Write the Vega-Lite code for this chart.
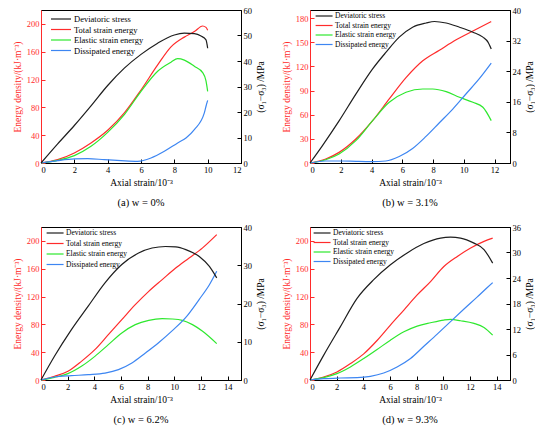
{
  "$schema": "https://vega.github.io/schema/vega-lite/v6.json",
  "padding": {"left": 11, "top": 5, "right": 0, "bottom": 0},
  "config": {
    "view": {"stroke": "#000000", "strokeWidth": 1},
    "font": "Liberation Serif",
    "axis": {
      "grid": false,
      "tickSize": -4,
      "labelPadding": 6,
      "labelFont": "Liberation Serif",
      "labelFontSize": 8.5,
      "titleFont": "Liberation Serif",
      "titleFontSize": 9.5,
      "titleFontWeight": "normal",
      "domainColor": "#000000",
      "tickColor": "#000000",
      "labelColor": "#000000",
      "titleColor": "#000000"
    },
    "legend": {
      "orient": "none",
      "legendX": 5,
      "legendY": 2,
      "padding": 0,
      "symbolType": "M-1,0H4",
      "symbolStrokeWidth": 1.6,
      "symbolSize": 46,
      "labelFont": "Liberation Serif",
      "labelFontSize": 7.5,
      "labelOffset": 12,
      "rowPadding": 1.5
    },
    "title": {"font": "Liberation Serif", "fontSize": 10.5, "fontWeight": "normal", "orient": "bottom", "offset": 11, "frame": "group"},
    "line": {"strokeWidth": 1.2, "interpolate": "monotone"}
  },
  "data": {
    "values": [
      {"panel": "a", "series": "Deviatoric stress", "strain": 0, "value": 0},
      {"panel": "a", "series": "Deviatoric stress", "strain": 1, "value": 7.5},
      {"panel": "a", "series": "Deviatoric stress", "strain": 2, "value": 14.7},
      {"panel": "a", "series": "Deviatoric stress", "strain": 3, "value": 22.4},
      {"panel": "a", "series": "Deviatoric stress", "strain": 4, "value": 30.4},
      {"panel": "a", "series": "Deviatoric stress", "strain": 5, "value": 37.2},
      {"panel": "a", "series": "Deviatoric stress", "strain": 6, "value": 42.6},
      {"panel": "a", "series": "Deviatoric stress", "strain": 7, "value": 47},
      {"panel": "a", "series": "Deviatoric stress", "strain": 8, "value": 50.2},
      {"panel": "a", "series": "Deviatoric stress", "strain": 8.6, "value": 50.9},
      {"panel": "a", "series": "Deviatoric stress", "strain": 9.2, "value": 50.7},
      {"panel": "a", "series": "Deviatoric stress", "strain": 9.6, "value": 49.8},
      {"panel": "a", "series": "Deviatoric stress", "strain": 9.9, "value": 48.3},
      {"panel": "a", "series": "Deviatoric stress", "strain": 10, "value": 45},
      {"panel": "a", "series": "Total strain energy", "strain": 0, "value": 0},
      {"panel": "a", "series": "Total strain energy", "strain": 1, "value": 4.8},
      {"panel": "a", "series": "Total strain energy", "strain": 2, "value": 14.4},
      {"panel": "a", "series": "Total strain energy", "strain": 3, "value": 28.8},
      {"panel": "a", "series": "Total strain energy", "strain": 4, "value": 47},
      {"panel": "a", "series": "Total strain energy", "strain": 5, "value": 72},
      {"panel": "a", "series": "Total strain energy", "strain": 6, "value": 105},
      {"panel": "a", "series": "Total strain energy", "strain": 7, "value": 141},
      {"panel": "a", "series": "Total strain energy", "strain": 7.8, "value": 167},
      {"panel": "a", "series": "Total strain energy", "strain": 8.6, "value": 181},
      {"panel": "a", "series": "Total strain energy", "strain": 9.2, "value": 189},
      {"panel": "a", "series": "Total strain energy", "strain": 9.7, "value": 197},
      {"panel": "a", "series": "Total strain energy", "strain": 9.9, "value": 195},
      {"panel": "a", "series": "Total strain energy", "strain": 10, "value": 191},
      {"panel": "a", "series": "Elastic strain energy", "strain": 0, "value": 0},
      {"panel": "a", "series": "Elastic strain energy", "strain": 1, "value": 3.8},
      {"panel": "a", "series": "Elastic strain energy", "strain": 2, "value": 10.6},
      {"panel": "a", "series": "Elastic strain energy", "strain": 3, "value": 24},
      {"panel": "a", "series": "Elastic strain energy", "strain": 4, "value": 44},
      {"panel": "a", "series": "Elastic strain energy", "strain": 5, "value": 69.6},
      {"panel": "a", "series": "Elastic strain energy", "strain": 6, "value": 103},
      {"panel": "a", "series": "Elastic strain energy", "strain": 7, "value": 132},
      {"panel": "a", "series": "Elastic strain energy", "strain": 7.8, "value": 145},
      {"panel": "a", "series": "Elastic strain energy", "strain": 8.2, "value": 150},
      {"panel": "a", "series": "Elastic strain energy", "strain": 8.6, "value": 148},
      {"panel": "a", "series": "Elastic strain energy", "strain": 9.2, "value": 139},
      {"panel": "a", "series": "Elastic strain energy", "strain": 9.7, "value": 130},
      {"panel": "a", "series": "Elastic strain energy", "strain": 9.9, "value": 118},
      {"panel": "a", "series": "Elastic strain energy", "strain": 10, "value": 103},
      {"panel": "a", "series": "Dissipated energy", "strain": 0, "value": 0},
      {"panel": "a", "series": "Dissipated energy", "strain": 1, "value": 3.4},
      {"panel": "a", "series": "Dissipated energy", "strain": 2, "value": 5.8},
      {"panel": "a", "series": "Dissipated energy", "strain": 2.8, "value": 6.2},
      {"panel": "a", "series": "Dissipated energy", "strain": 3.8, "value": 4.8},
      {"panel": "a", "series": "Dissipated energy", "strain": 4.8, "value": 3.4},
      {"panel": "a", "series": "Dissipated energy", "strain": 5.8, "value": 2.4},
      {"panel": "a", "series": "Dissipated energy", "strain": 6.6, "value": 7.2},
      {"panel": "a", "series": "Dissipated energy", "strain": 7.4, "value": 16.8},
      {"panel": "a", "series": "Dissipated energy", "strain": 8.2, "value": 28.8},
      {"panel": "a", "series": "Dissipated energy", "strain": 8.7, "value": 36},
      {"panel": "a", "series": "Dissipated energy", "strain": 9.2, "value": 48},
      {"panel": "a", "series": "Dissipated energy", "strain": 9.8, "value": 72},
      {"panel": "a", "series": "Dissipated energy", "strain": 9.9, "value": 81.6},
      {"panel": "a", "series": "Dissipated energy", "strain": 10, "value": 90},

      {"panel": "b", "series": "Deviatoric stress", "strain": 0, "value": 0},
      {"panel": "b", "series": "Deviatoric stress", "strain": 0.8, "value": 4.5},
      {"panel": "b", "series": "Deviatoric stress", "strain": 1.89, "value": 11},
      {"panel": "b", "series": "Deviatoric stress", "strain": 2.98, "value": 18},
      {"panel": "b", "series": "Deviatoric stress", "strain": 4.07, "value": 24.6},
      {"panel": "b", "series": "Deviatoric stress", "strain": 4.93, "value": 28.9},
      {"panel": "b", "series": "Deviatoric stress", "strain": 5.8, "value": 32.9},
      {"panel": "b", "series": "Deviatoric stress", "strain": 6.67, "value": 35.5},
      {"panel": "b", "series": "Deviatoric stress", "strain": 7.54, "value": 36.6},
      {"panel": "b", "series": "Deviatoric stress", "strain": 8.09, "value": 37},
      {"panel": "b", "series": "Deviatoric stress", "strain": 8.85, "value": 36.6},
      {"panel": "b", "series": "Deviatoric stress", "strain": 9.72, "value": 35.5},
      {"panel": "b", "series": "Deviatoric stress", "strain": 10.59, "value": 34.2},
      {"panel": "b", "series": "Deviatoric stress", "strain": 11.24, "value": 32.9},
      {"panel": "b", "series": "Deviatoric stress", "strain": 11.57, "value": 31.6},
      {"panel": "b", "series": "Deviatoric stress", "strain": 11.78, "value": 29.8},
      {"panel": "b", "series": "Total strain energy", "strain": 0, "value": 0},
      {"panel": "b", "series": "Total strain energy", "strain": 1.02, "value": 5},
      {"panel": "b", "series": "Total strain energy", "strain": 1.89, "value": 13.2},
      {"panel": "b", "series": "Total strain energy", "strain": 2.98, "value": 29.8},
      {"panel": "b", "series": "Total strain energy", "strain": 4.07, "value": 52.6},
      {"panel": "b", "series": "Total strain energy", "strain": 5.15, "value": 79.5},
      {"panel": "b", "series": "Total strain energy", "strain": 6.24, "value": 106},
      {"panel": "b", "series": "Total strain energy", "strain": 7.33, "value": 127},
      {"panel": "b", "series": "Total strain energy", "strain": 8.41, "value": 140},
      {"panel": "b", "series": "Total strain energy", "strain": 9.5, "value": 153},
      {"panel": "b", "series": "Total strain energy", "strain": 10.59, "value": 164},
      {"panel": "b", "series": "Total strain energy", "strain": 11.78, "value": 175.6},
      {"panel": "b", "series": "Elastic strain energy", "strain": 0, "value": 0},
      {"panel": "b", "series": "Elastic strain energy", "strain": 1.02, "value": 4.1},
      {"panel": "b", "series": "Elastic strain energy", "strain": 1.89, "value": 11.2},
      {"panel": "b", "series": "Elastic strain energy", "strain": 2.98, "value": 27.7},
      {"panel": "b", "series": "Elastic strain energy", "strain": 4.07, "value": 52.6},
      {"panel": "b", "series": "Elastic strain energy", "strain": 5.15, "value": 75.4},
      {"panel": "b", "series": "Elastic strain energy", "strain": 6.24, "value": 87.8},
      {"panel": "b", "series": "Elastic strain energy", "strain": 7.33, "value": 91.9},
      {"panel": "b", "series": "Elastic strain energy", "strain": 7.98, "value": 91.9},
      {"panel": "b", "series": "Elastic strain energy", "strain": 8.85, "value": 88.6},
      {"panel": "b", "series": "Elastic strain energy", "strain": 9.72, "value": 81.6},
      {"panel": "b", "series": "Elastic strain energy", "strain": 10.59, "value": 75.4},
      {"panel": "b", "series": "Elastic strain energy", "strain": 11.24, "value": 69.2},
      {"panel": "b", "series": "Elastic strain energy", "strain": 11.78, "value": 52.6},
      {"panel": "b", "series": "Dissipated energy", "strain": 0, "value": 0},
      {"panel": "b", "series": "Dissipated energy", "strain": 1, "value": 2.5},
      {"panel": "b", "series": "Dissipated energy", "strain": 2, "value": 2.5},
      {"panel": "b", "series": "Dissipated energy", "strain": 3, "value": 2},
      {"panel": "b", "series": "Dissipated energy", "strain": 4, "value": 1.7},
      {"panel": "b", "series": "Dissipated energy", "strain": 4.93, "value": 2.5},
      {"panel": "b", "series": "Dissipated energy", "strain": 5.8, "value": 8},
      {"panel": "b", "series": "Dissipated energy", "strain": 6.67, "value": 18},
      {"panel": "b", "series": "Dissipated energy", "strain": 7.54, "value": 33},
      {"panel": "b", "series": "Dissipated energy", "strain": 8.41, "value": 50},
      {"panel": "b", "series": "Dissipated energy", "strain": 9.28, "value": 67},
      {"panel": "b", "series": "Dissipated energy", "strain": 10.15, "value": 86},
      {"panel": "b", "series": "Dissipated energy", "strain": 11.02, "value": 105},
      {"panel": "b", "series": "Dissipated energy", "strain": 11.78, "value": 124},

      {"panel": "c", "series": "Deviatoric stress", "strain": 0, "value": 0},
      {"panel": "c", "series": "Deviatoric stress", "strain": 1.01, "value": 6.2},
      {"panel": "c", "series": "Deviatoric stress", "strain": 2.27, "value": 13.1},
      {"panel": "c", "series": "Deviatoric stress", "strain": 3.54, "value": 19.3},
      {"panel": "c", "series": "Deviatoric stress", "strain": 4.8, "value": 25.4},
      {"panel": "c", "series": "Deviatoric stress", "strain": 6.06, "value": 30.2},
      {"panel": "c", "series": "Deviatoric stress", "strain": 7.32, "value": 33.2},
      {"panel": "c", "series": "Deviatoric stress", "strain": 8.33, "value": 34.5},
      {"panel": "c", "series": "Deviatoric stress", "strain": 9.34, "value": 34.9},
      {"panel": "c", "series": "Deviatoric stress", "strain": 10.1, "value": 34.8},
      {"panel": "c", "series": "Deviatoric stress", "strain": 10.86, "value": 34.1},
      {"panel": "c", "series": "Deviatoric stress", "strain": 11.87, "value": 32.3},
      {"panel": "c", "series": "Deviatoric stress", "strain": 12.63, "value": 29.7},
      {"panel": "c", "series": "Deviatoric stress", "strain": 13.18, "value": 26.7},
      {"panel": "c", "series": "Total strain energy", "strain": 0, "value": 0},
      {"panel": "c", "series": "Total strain energy", "strain": 1.01, "value": 5.3},
      {"panel": "c", "series": "Total strain energy", "strain": 2.02, "value": 12.5},
      {"panel": "c", "series": "Total strain energy", "strain": 3.03, "value": 26.8},
      {"panel": "c", "series": "Total strain energy", "strain": 4.04, "value": 43.6},
      {"panel": "c", "series": "Total strain energy", "strain": 5.05, "value": 65.2},
      {"panel": "c", "series": "Total strain energy", "strain": 6.06, "value": 86.8},
      {"panel": "c", "series": "Total strain energy", "strain": 7.07, "value": 108.3},
      {"panel": "c", "series": "Total strain energy", "strain": 8.08, "value": 127.5},
      {"panel": "c", "series": "Total strain energy", "strain": 9.09, "value": 144.3},
      {"panel": "c", "series": "Total strain energy", "strain": 10.1, "value": 161},
      {"panel": "c", "series": "Total strain energy", "strain": 11.11, "value": 175.5},
      {"panel": "c", "series": "Total strain energy", "strain": 12.12, "value": 190},
      {"panel": "c", "series": "Total strain energy", "strain": 13.18, "value": 209},
      {"panel": "c", "series": "Elastic strain energy", "strain": 0, "value": 0},
      {"panel": "c", "series": "Elastic strain energy", "strain": 1.01, "value": 3.8},
      {"panel": "c", "series": "Elastic strain energy", "strain": 2.02, "value": 9.1},
      {"panel": "c", "series": "Elastic strain energy", "strain": 3.03, "value": 19.7},
      {"panel": "c", "series": "Elastic strain energy", "strain": 4.04, "value": 34},
      {"panel": "c", "series": "Elastic strain energy", "strain": 5.05, "value": 50.8},
      {"panel": "c", "series": "Elastic strain energy", "strain": 6.06, "value": 67.6},
      {"panel": "c", "series": "Elastic strain energy", "strain": 7.07, "value": 79.6},
      {"panel": "c", "series": "Elastic strain energy", "strain": 8.08, "value": 85.8},
      {"panel": "c", "series": "Elastic strain energy", "strain": 9.09, "value": 88.2},
      {"panel": "c", "series": "Elastic strain energy", "strain": 9.85, "value": 87.7},
      {"panel": "c", "series": "Elastic strain energy", "strain": 10.6, "value": 85.8},
      {"panel": "c", "series": "Elastic strain energy", "strain": 11.36, "value": 79.6},
      {"panel": "c", "series": "Elastic strain energy", "strain": 12.12, "value": 70},
      {"panel": "c", "series": "Elastic strain energy", "strain": 13.18, "value": 52.3},
      {"panel": "c", "series": "Dissipated energy", "strain": 0, "value": 0},
      {"panel": "c", "series": "Dissipated energy", "strain": 1.01, "value": 4.3},
      {"panel": "c", "series": "Dissipated energy", "strain": 2.27, "value": 6.2},
      {"panel": "c", "series": "Dissipated energy", "strain": 3.54, "value": 7.7},
      {"panel": "c", "series": "Dissipated energy", "strain": 4.8, "value": 10},
      {"panel": "c", "series": "Dissipated energy", "strain": 5.81, "value": 14.9},
      {"panel": "c", "series": "Dissipated energy", "strain": 6.82, "value": 24.4},
      {"panel": "c", "series": "Dissipated energy", "strain": 7.83, "value": 38.8},
      {"panel": "c", "series": "Dissipated energy", "strain": 8.84, "value": 54},
      {"panel": "c", "series": "Dissipated energy", "strain": 9.85, "value": 71},
      {"panel": "c", "series": "Dissipated energy", "strain": 10.86, "value": 90},
      {"panel": "c", "series": "Dissipated energy", "strain": 11.87, "value": 116},
      {"panel": "c", "series": "Dissipated energy", "strain": 12.63, "value": 137},
      {"panel": "c", "series": "Dissipated energy", "strain": 13.18, "value": 156.3},

      {"panel": "d", "series": "Deviatoric stress", "strain": 0, "value": 0},
      {"panel": "d", "series": "Deviatoric stress", "strain": 1.02, "value": 5.8},
      {"panel": "d", "series": "Deviatoric stress", "strain": 2.27, "value": 12.5},
      {"panel": "d", "series": "Deviatoric stress", "strain": 3.53, "value": 19.2},
      {"panel": "d", "series": "Deviatoric stress", "strain": 4.78, "value": 23.6},
      {"panel": "d", "series": "Deviatoric stress", "strain": 6.03, "value": 27.1},
      {"panel": "d", "series": "Deviatoric stress", "strain": 7.29, "value": 29.9},
      {"panel": "d", "series": "Deviatoric stress", "strain": 8.54, "value": 32.1},
      {"panel": "d", "series": "Deviatoric stress", "strain": 9.79, "value": 33.4},
      {"panel": "d", "series": "Deviatoric stress", "strain": 10.54, "value": 33.6},
      {"panel": "d", "series": "Deviatoric stress", "strain": 11.29, "value": 33.4},
      {"panel": "d", "series": "Deviatoric stress", "strain": 12.3, "value": 32.2},
      {"panel": "d", "series": "Deviatoric stress", "strain": 13.05, "value": 30.7},
      {"panel": "d", "series": "Deviatoric stress", "strain": 13.7, "value": 27.5},
      {"panel": "d", "series": "Total strain energy", "strain": 0, "value": 0},
      {"panel": "d", "series": "Total strain energy", "strain": 1.02, "value": 4.3},
      {"panel": "d", "series": "Total strain energy", "strain": 2.02, "value": 11.6},
      {"panel": "d", "series": "Total strain energy", "strain": 3.03, "value": 23.6},
      {"panel": "d", "series": "Total strain energy", "strain": 4.03, "value": 37.6},
      {"panel": "d", "series": "Total strain energy", "strain": 5.03, "value": 56.8},
      {"panel": "d", "series": "Total strain energy", "strain": 6.03, "value": 79},
      {"panel": "d", "series": "Total strain energy", "strain": 7.04, "value": 100.6},
      {"panel": "d", "series": "Total strain energy", "strain": 8.04, "value": 122.3},
      {"panel": "d", "series": "Total strain energy", "strain": 9.04, "value": 141.5},
      {"panel": "d", "series": "Total strain energy", "strain": 10.04, "value": 163.2},
      {"panel": "d", "series": "Total strain energy", "strain": 11.05, "value": 177.7},
      {"panel": "d", "series": "Total strain energy", "strain": 12.05, "value": 189.7},
      {"panel": "d", "series": "Total strain energy", "strain": 13.05, "value": 199.3},
      {"panel": "d", "series": "Total strain energy", "strain": 13.7, "value": 204},
      {"panel": "d", "series": "Elastic strain energy", "strain": 0, "value": 0},
      {"panel": "d", "series": "Elastic strain energy", "strain": 1.02, "value": 3.4},
      {"panel": "d", "series": "Elastic strain energy", "strain": 2.02, "value": 9.1},
      {"panel": "d", "series": "Elastic strain energy", "strain": 3.03, "value": 18.8},
      {"panel": "d", "series": "Elastic strain energy", "strain": 4.03, "value": 30.8},
      {"panel": "d", "series": "Elastic strain energy", "strain": 5.03, "value": 43.8},
      {"panel": "d", "series": "Elastic strain energy", "strain": 6.03, "value": 57.3},
      {"panel": "d", "series": "Elastic strain energy", "strain": 7.04, "value": 69.3},
      {"panel": "d", "series": "Elastic strain energy", "strain": 8.04, "value": 77.5},
      {"panel": "d", "series": "Elastic strain energy", "strain": 9.04, "value": 82.3},
      {"panel": "d", "series": "Elastic strain energy", "strain": 10.04, "value": 86.2},
      {"panel": "d", "series": "Elastic strain energy", "strain": 10.54, "value": 87.1},
      {"panel": "d", "series": "Elastic strain energy", "strain": 11.29, "value": 85.2},
      {"panel": "d", "series": "Elastic strain energy", "strain": 12.3, "value": 81.4},
      {"panel": "d", "series": "Elastic strain energy", "strain": 13.05, "value": 75.6},
      {"panel": "d", "series": "Elastic strain energy", "strain": 13.7, "value": 64.5},
      {"panel": "d", "series": "Dissipated energy", "strain": 0, "value": 0},
      {"panel": "d", "series": "Dissipated energy", "strain": 1.02, "value": 1.9},
      {"panel": "d", "series": "Dissipated energy", "strain": 2.27, "value": 2.9},
      {"panel": "d", "series": "Dissipated energy", "strain": 3.53, "value": 3.4},
      {"panel": "d", "series": "Dissipated energy", "strain": 4.53, "value": 5.3},
      {"panel": "d", "series": "Dissipated energy", "strain": 5.53, "value": 10.1},
      {"panel": "d", "series": "Dissipated energy", "strain": 6.53, "value": 18.8},
      {"panel": "d", "series": "Dissipated energy", "strain": 7.54, "value": 31},
      {"panel": "d", "series": "Dissipated energy", "strain": 8.54, "value": 48.5},
      {"panel": "d", "series": "Dissipated energy", "strain": 9.54, "value": 66},
      {"panel": "d", "series": "Dissipated energy", "strain": 10.54, "value": 84},
      {"panel": "d", "series": "Dissipated energy", "strain": 11.55, "value": 102},
      {"panel": "d", "series": "Dissipated energy", "strain": 12.55, "value": 119.5},
      {"panel": "d", "series": "Dissipated energy", "strain": 13.3, "value": 133},
      {"panel": "d", "series": "Dissipated energy", "strain": 13.7, "value": 140}
    ]
  },
  "columns": 2,
  "spacing": {"row": 64, "column": 69},
  "bounds": "flush",
  "resolve": {"scale": {"color": "independent"}, "legend": {"color": "independent"}},
  "concat": [
    {
      "width": 200,
      "height": 153,
      "title": {"text": "(a) w = 0%"},
      "transform": [{"filter": "datum.panel == 'a'"}],
      "encoding": {
        "x": {"field": "strain", "type": "quantitative", "scale": {"domain": [0, 12], "nice": false}, "axis": {"values": [0, 2, 4, 6, 8, 10, 12], "title": "Axial strain/10⁻³"}},
        "color": {
          "field": "series", "type": "nominal",
          "scale": {"domain": ["Deviatoric stress", "Total strain energy", "Elastic strain energy", "Dissipated energy"], "range": ["#1e1e1e", "#ff2b2b", "#2ee82e", "#3d86f2"]},
          "legend": {"title": null, "legendX": 9, "legendY": 4, "labelFontSize": 8.5, "symbolSize": 64, "labelOffset": 14, "rowPadding": 0.5}
        }
      },
      "layer": [
        {
          "transform": [{"filter": "datum.series != 'Deviatoric stress'"}],
          "mark": "line",
          "encoding": {"y": {"field": "value", "type": "quantitative", "scale": {"domain": [0, 220], "nice": false},
            "axis": {"values": [0, 40, 80, 120, 160, 200], "title": "Energy density/(kJ·m⁻³)", "domainColor": "#ff2b2b", "tickColor": "#ff2b2b", "labelColor": "#ff2b2b", "titleColor": "#ff2b2b"}}}
        },
        {
          "transform": [{"filter": "datum.series == 'Deviatoric stress'"}],
          "mark": "line",
          "encoding": {"y": {"field": "value", "type": "quantitative", "scale": {"domain": [0, 60], "nice": false},
            "axis": {"orient": "right", "values": [0, 10, 20, 30, 40, 50, 60], "title": "(σ₁−σ₃) /MPa", "titleAngle": -90, "titleBaseline": "top"}}}
        }
      ],
      "resolve": {"scale": {"y": "independent"}}
    },
    {
      "width": 200,
      "height": 153,
      "title": {"text": "(b) w = 3.1%"},
      "transform": [{"filter": "datum.panel == 'b'"}],
      "encoding": {
        "x": {"field": "strain", "type": "quantitative", "scale": {"domain": [0, 13], "nice": false}, "axis": {"values": [0, 2, 4, 6, 8, 10, 12], "title": "Axial strain/10⁻³"}},
        "color": {
          "field": "series", "type": "nominal",
          "scale": {"domain": ["Deviatoric stress", "Total strain energy", "Elastic strain energy", "Dissipated energy"], "range": ["#1e1e1e", "#ff2b2b", "#2ee82e", "#3d86f2"]},
          "legend": {"title": null}
        }
      },
      "layer": [
        {
          "transform": [{"filter": "datum.series != 'Deviatoric stress'"}],
          "mark": "line",
          "encoding": {"y": {"field": "value", "type": "quantitative", "scale": {"domain": [0, 190], "nice": false},
            "axis": {"values": [0, 30, 60, 90, 120, 150, 180], "title": "Energy density/(kJ·m⁻³)", "domainColor": "#ff2b2b", "tickColor": "#ff2b2b", "labelColor": "#ff2b2b", "titleColor": "#ff2b2b"}}}
        },
        {
          "transform": [{"filter": "datum.series == 'Deviatoric stress'"}],
          "mark": "line",
          "encoding": {"y": {"field": "value", "type": "quantitative", "scale": {"domain": [0, 40], "nice": false},
            "axis": {"orient": "right", "values": [0, 8, 16, 24, 32, 40], "title": "(σ₁−σ₃) /MPa", "titleAngle": -90, "titleBaseline": "top"}}}
        }
      ],
      "resolve": {"scale": {"y": "independent"}}
    },
    {
      "width": 200,
      "height": 153,
      "title": {"text": "(c) w = 6.2%"},
      "transform": [{"filter": "datum.panel == 'c'"}],
      "encoding": {
        "x": {"field": "strain", "type": "quantitative", "scale": {"domain": [0, 15], "nice": false}, "axis": {"values": [0, 2, 4, 6, 8, 10, 12, 14], "title": "Axial strain/10⁻³"}},
        "color": {
          "field": "series", "type": "nominal",
          "scale": {"domain": ["Deviatoric stress", "Total strain energy", "Elastic strain energy", "Dissipated energy"], "range": ["#1e1e1e", "#ff2b2b", "#2ee82e", "#3d86f2"]},
          "legend": {"title": null, "rowPadding": 2.5}
        }
      },
      "layer": [
        {
          "transform": [{"filter": "datum.series != 'Deviatoric stress'"}],
          "mark": "line",
          "encoding": {"y": {"field": "value", "type": "quantitative", "scale": {"domain": [0, 220], "nice": false},
            "axis": {"values": [0, 40, 80, 120, 160, 200], "title": "Energy density/(kJ·m⁻³)", "domainColor": "#ff2b2b", "tickColor": "#ff2b2b", "labelColor": "#ff2b2b", "titleColor": "#ff2b2b"}}}
        },
        {
          "transform": [{"filter": "datum.series == 'Deviatoric stress'"}],
          "mark": "line",
          "encoding": {"y": {"field": "value", "type": "quantitative", "scale": {"domain": [0, 40], "nice": false},
            "axis": {"orient": "right", "values": [0, 10, 20, 30, 40], "title": "(σ₁−σ₃) /MPa", "titleAngle": -90, "titleBaseline": "top"}}}
        }
      ],
      "resolve": {"scale": {"y": "independent"}}
    },
    {
      "width": 200,
      "height": 153,
      "title": {"text": "(d) w = 9.3%"},
      "transform": [{"filter": "datum.panel == 'd'"}],
      "encoding": {
        "x": {"field": "strain", "type": "quantitative", "scale": {"domain": [0, 15], "nice": false}, "axis": {"values": [0, 2, 4, 6, 8, 10, 12, 14], "title": "Axial strain/10⁻³"}},
        "color": {
          "field": "series", "type": "nominal",
          "scale": {"domain": ["Deviatoric stress", "Total strain energy", "Elastic strain energy", "Dissipated energy"], "range": ["#1e1e1e", "#ff2b2b", "#2ee82e", "#3d86f2"]},
          "legend": {"title": null, "legendX": 3}
        }
      },
      "layer": [
        {
          "transform": [{"filter": "datum.series != 'Deviatoric stress'"}],
          "mark": "line",
          "encoding": {"y": {"field": "value", "type": "quantitative", "scale": {"domain": [0, 220], "nice": false},
            "axis": {"values": [0, 40, 80, 120, 160, 200], "title": "Energy density/(kJ·m⁻³)", "domainColor": "#ff2b2b", "tickColor": "#ff2b2b", "labelColor": "#ff2b2b", "titleColor": "#ff2b2b"}}}
        },
        {
          "transform": [{"filter": "datum.series == 'Deviatoric stress'"}],
          "mark": "line",
          "encoding": {"y": {"field": "value", "type": "quantitative", "scale": {"domain": [0, 36], "nice": false},
            "axis": {"orient": "right", "values": [0, 6, 12, 18, 24, 30, 36], "title": "(σ₁−σ₃) /MPa", "titleAngle": -90, "titleBaseline": "top"}}}
        }
      ],
      "resolve": {"scale": {"y": "independent"}}
    }
  ]
}
